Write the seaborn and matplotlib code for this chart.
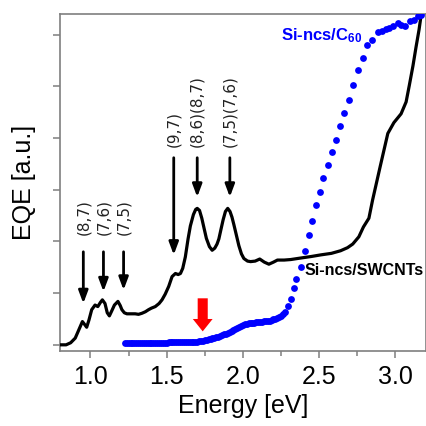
import numpy as np
import pandas as pd
import matplotlib
matplotlib.use("Agg")
import matplotlib.pyplot as plt
import seaborn as sns

# ---- data ----
# Si-ncs/SWCNTs (black line)
swcnt_e = [0.80, 0.84, 0.87, 0.90, 0.925, 0.947, 0.96, 0.975, 0.99, 1.008,
           1.03, 1.048, 1.065, 1.078, 1.095, 1.11, 1.124, 1.14, 1.157, 1.18,
           1.195, 1.206, 1.222, 1.239, 1.265, 1.293, 1.315, 1.337, 1.36, 1.381,
           1.40, 1.425, 1.45, 1.469, 1.49, 1.513, 1.535, 1.557, 1.575, 1.59,
           1.605, 1.622, 1.64, 1.655, 1.675, 1.69, 1.70, 1.715, 1.73, 1.743,
           1.76, 1.78, 1.798, 1.815, 1.83, 1.842, 1.857, 1.87, 1.885, 1.90,
           1.915, 1.928, 1.94, 1.957, 1.973, 1.99, 2.006, 2.03, 2.05, 2.08,
           2.11, 2.14, 2.17, 2.20, 2.226, 2.27, 2.313, 2.38, 2.45, 2.51,
           2.58, 2.64, 2.686, 2.72, 2.76, 2.79, 2.826, 2.85, 2.90, 2.95,
           2.99, 3.037, 3.07, 3.091, 3.115, 3.135, 3.155, 3.168, 3.18]
swcnt_eqe = [0.0, 0.0, 0.04, 0.13, 0.30, 0.45, 0.40, 0.34, 0.48, 0.68,
             0.77, 0.74, 0.82, 0.87, 0.80, 0.62, 0.56, 0.66, 0.77, 0.84,
             0.76, 0.68, 0.62, 0.60, 0.60, 0.60, 0.59, 0.61, 0.64, 0.68,
             0.71, 0.74, 0.80, 0.87, 0.98, 1.13, 1.32, 1.38, 1.36, 1.38,
             1.48, 1.70, 2.05, 2.30, 2.52, 2.62, 2.64, 2.60, 2.45, 2.28,
             2.06, 1.90, 1.83, 1.87, 1.95, 2.05, 2.25, 2.42, 2.58, 2.64,
             2.58, 2.47, 2.33, 2.12, 1.92, 1.76, 1.67, 1.62, 1.61, 1.62,
             1.66, 1.60, 1.56, 1.60, 1.64, 1.64, 1.65, 1.68, 1.71, 1.74,
             1.77, 1.82, 1.88, 1.95, 2.09, 2.28, 2.45, 2.80, 3.45, 4.09,
             4.30, 4.47, 4.70, 5.02, 5.40, 5.76, 6.10, 6.37, 6.60]

# Si-ncs/C60 (blue dots; low-energy part sampled densely, looks like a band)
c60_e = [1.225, 1.2375, 1.25, 1.2625, 1.275, 1.2875, 1.30, 1.3125, 1.325, 1.3375,
         1.35, 1.3625, 1.375, 1.3875, 1.40, 1.4125, 1.425, 1.4375, 1.45, 1.4625,
         1.475, 1.4875, 1.50, 1.5125, 1.525, 1.5375, 1.55, 1.5625, 1.575, 1.5875,
         1.60, 1.6125, 1.625, 1.6375, 1.65, 1.6625, 1.675, 1.6875, 1.70, 1.7125,
         1.725, 1.7375, 1.75, 1.7625, 1.775, 1.7875, 1.80, 1.8125, 1.825, 1.8375,
         1.85, 1.8625, 1.875, 1.8875, 1.90, 1.9125, 1.925, 1.9375, 1.95, 1.9625,
         1.975, 1.9875, 2.00, 2.0125, 2.025, 2.0375, 2.05, 2.0625, 2.075, 2.0875,
         2.10, 2.1125, 2.125, 2.1375, 2.15, 2.1625, 2.175, 2.1875, 2.20, 2.2125,
         2.225, 2.2375, 2.25, 2.262,
         2.274, 2.295, 2.318, 2.335, 2.346, 2.379, 2.407, 2.433,
         2.453, 2.48, 2.506, 2.528, 2.555, 2.583, 2.609, 2.638, 2.664, 2.697,
         2.723, 2.752, 2.785, 2.813, 2.844, 2.884, 2.912, 2.938, 2.96, 2.982,
         3.019, 3.037, 3.065, 3.098, 3.124, 3.147, 3.17]
c60_eqe = [0.03, 0.03, 0.03, 0.03, 0.03, 0.03, 0.03, 0.03, 0.03, 0.035,
           0.035, 0.035, 0.035, 0.035, 0.035, 0.04, 0.04, 0.04, 0.04, 0.04,
           0.04, 0.04, 0.04, 0.045, 0.045, 0.045, 0.045, 0.045, 0.045, 0.045,
           0.045, 0.045, 0.045, 0.045, 0.045, 0.048, 0.05, 0.055, 0.06, 0.068,
           0.075, 0.082, 0.09, 0.10, 0.11, 0.12, 0.13, 0.14, 0.15, 0.16,
           0.17, 0.185, 0.20, 0.215, 0.23, 0.25, 0.27, 0.29, 0.31, 0.33,
           0.35, 0.365, 0.38, 0.395, 0.41, 0.415, 0.42, 0.425, 0.43, 0.435,
           0.44, 0.445, 0.45, 0.455, 0.46, 0.465, 0.47, 0.48, 0.49, 0.505,
           0.52, 0.54, 0.56, 0.60,
           0.64, 0.75, 0.88, 1.09, 1.27, 1.51, 1.82, 2.12,
           2.39, 2.70, 2.96, 3.22, 3.48, 3.73, 3.96, 4.23, 4.48, 4.73,
           5.02, 5.31, 5.55, 5.81, 5.90, 6.05, 6.08, 6.11, 6.13, 6.16,
           6.22, 6.18, 6.16, 6.26, 6.29, 6.37, 6.39]

# chirality labels: text, energy, arrow top, arrow tip, text bottom
chir_labels = ["(8,7)", "(7,6)", "(7,5)", "(9,7)", "(8,6)(8,7)", "(7,5)(7,6)"]
chir_e = [0.953, 1.085, 1.217, 1.546, 1.70, 1.914]
chir_top = [1.80, 1.80, 1.80, 3.62, 3.62, 3.62]
chir_tip = [0.80, 1.03, 1.06, 1.74, 2.86, 2.86]
chir_txt = [2.12, 2.12, 2.12, 3.82, 3.82, 3.82]

sns.set_style("ticks")
plt.rcParams['font.family'] = ['Liberation Sans', 'DejaVu Sans']
plt.rcParams['mathtext.default'] = 'regular'

fig = plt.figure(figsize=(4.27, 4.26), dpi=100)
ax = fig.add_axes([0.1405, 0.176, 0.857, 0.791])

sns.lineplot(x=swcnt_e, y=swcnt_eqe, color='black', lw=2.3, ax=ax, zorder=3)
sns.scatterplot(x=c60_e, y=c60_eqe, color='#0000ff', s=24, linewidth=0, ax=ax, zorder=4)

# arrows + chirality labels
for lab, e, top, tip, ty in zip(chir_labels, chir_e, chir_top, chir_tip, chir_txt):
    ax.annotate('', xy=(e, tip), xytext=(e, top),
                arrowprops=dict(arrowstyle='-|>,head_length=0.75,head_width=0.28',
                                lw=2, color='black', mutation_scale=10,
                                shrinkA=0, shrinkB=0))
    ax.text(e, ty, lab, rotation=90, ha='center', va='bottom',
            fontsize=11, family='DejaVu Sans', color='#222222')

# red arrow
ax.arrow(1.736, 0.90, 0, -0.64, width=0.066, head_width=0.13, head_length=0.24,
         length_includes_head=True, color='red', lw=0, zorder=5)

ax.text(2.247, 5.89, r'Si-ncs/C$_{60}$', color='#0000ff', fontsize=12,
        fontweight='bold', ha='left', va='baseline')
ax.text(2.405, 1.43, 'Si-ncs/SWCNTs', color='black', fontsize=11.5,
        fontweight='bold', ha='left', va='center')

ax.set_xlim(0.8, 3.2)
ax.set_ylim(-0.12, 6.4)
ax.set_xticks([1.0, 1.5, 2.0, 2.5, 3.0])
ax.set_xticks([1.25, 1.75, 2.25, 2.75], minor=True)
ax.set_yticks(range(7))
ax.set_yticklabels([])
ax.tick_params(axis='both', which='major', direction='out', length=5, width=1.1,
               color='#7f7f7f', labelsize=18, labelcolor='black', pad=5)
ax.tick_params(axis='x', which='minor', direction='out', length=3.5, width=1.1,
               color='#7f7f7f')
for sp in ax.spines.values():
    sp.set_visible(True)
    sp.set_color('#7f7f7f')
    sp.set_linewidth(1.2)

ax.set_xlabel('Energy [eV]', fontsize=18, labelpad=4, color='black')
ax.set_ylabel('EQE [a.u.]', fontsize=18, labelpad=7, color='black')

fig.savefig('out.png', dpi=100)
